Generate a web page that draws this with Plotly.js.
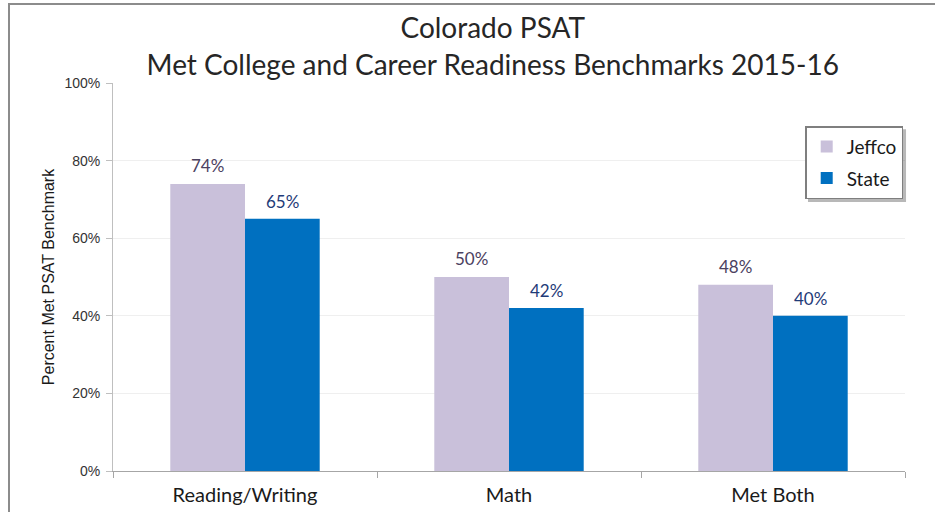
<!DOCTYPE html>
<html><head><meta charset="utf-8">
<script src="https://cdn.plot.ly/plotly-3.0.1.min.js"></script>
<style>
html,body{margin:0;padding:0;background:#fff;overflow:hidden}
#frame{position:absolute;left:8px;top:3px;width:1000px;height:600px;border-left:2px solid #8c8c8c;border-top:2px solid #8c8c8c;pointer-events:none;z-index:5}
#chart{position:absolute;left:0;top:0;width:935px;height:512px}
</style></head>
<body>
<div id="chart"></div>
<div id="frame"></div>
<script>
const categories = ["Reading/Writing", "Math", "Met Both"];
const jeffco = [0.74, 0.50, 0.48];
const state = [0.65, 0.42, 0.40];
const jeffcoLabels = ["74%", "50%", "48%"];
const stateLabels = ["65%", "42%", "40%"];
const yTicks = [0, 0.2, 0.4, 0.6, 0.8, 1.0];
const yTickLabels = ["0%", "20%", "40%", "60%", "80%", "100%"];

const labelFont = "Lato, 'DejaVu Sans', sans-serif";
const bodyFont = "'Liberation Sans', Arial, sans-serif";
const traces = [
  {type:"bar", name:"Jeffco", x:categories, y:jeffco, legendgroup:"a",
   marker:{color:"#c9c0da"}},
  {type:"bar", name:"State", x:categories, y:state, legendgroup:"b",
   marker:{color:"#0070c0"}}
];

const barShift = 37.5;
const annotations = [];
categories.forEach((c, i) => {
  annotations.push({x:c, y:jeffco[i], xref:"x", yref:"y", text:jeffcoLabels[i],
    showarrow:false, xshift:-barShift, yanchor:"bottom", yshift:6,
    font:{family:labelFont, size:17, color:"#4b4160"}});
  annotations.push({x:c, y:state[i], xref:"x", yref:"y", text:stateLabels[i],
    showarrow:false, xshift:barShift, yanchor:"bottom", yshift:5,
    font:{family:labelFont, size:17, color:"#1f3b78"}});
});

const layout = {
  width:935, height:512,
  margin:{l:113, r:30, t:83, b:41},
  paper_bgcolor:"rgba(0,0,0,0)", plot_bgcolor:"#fff",
  barmode:"group", bargap:0.434, bargroupgap:0,
  title:{text:"Colorado PSAT<br>Met College and Career Readiness Benchmarks 2015-16",
         font:{family:labelFont, size:28, color:"#262626"},
         x:0.527, xanchor:"center", y:0.925, yanchor:"top", automargin:false},
  xaxis:{type:"category", showline:true, linecolor:"#a6a6a6", linewidth:1,
         ticks:"outside", tickson:"boundaries", ticklen:6, tickcolor:"#a6a6a6",
         ticklabelstandoff:6,
         tickfont:{family:labelFont, size:20, color:"#1a1a1a"}, automargin:false},
  yaxis:{range:[0,1], tickvals:yTicks, ticktext:yTickLabels,
         showline:true, linecolor:"#bfbfbf", linewidth:1,
         ticks:"outside", ticklen:6, tickcolor:"#bfbfbf",
         gridcolor:"#efefef", zeroline:false, ticklabelstandoff:3,
         tickfont:{family:bodyFont, size:14, color:"#333"},
         title:{text:"Percent Met PSAT Benchmark", standoff:5,
                font:{family:bodyFont, size:16, color:"#1a1a1a"}},
         automargin:false},
  showlegend:true,
  legend:{x:0.874, y:0.889, xanchor:"left", yanchor:"top",
          bgcolor:"#fff", bordercolor:"#7f7f7f", borderwidth:1.5,
          font:{family:labelFont, size:19, color:"#1a1a1a"},
          traceorder:"grouped", tracegroupgap:4, itemwidth:30},
  annotations: annotations,
  shapes:[
    {type:"rect", xref:"paper", yref:"paper", x0:0.8775, x1:1.0013, y0:0.693, y1:0.881,
     fillcolor:"rgba(0,0,0,0.28)", line:{width:0}, layer:"above"}
  ]
};
Plotly.newPlot("chart", traces, layout, {displayModeBar:false, staticPlot:true});
</script>
</body></html>
